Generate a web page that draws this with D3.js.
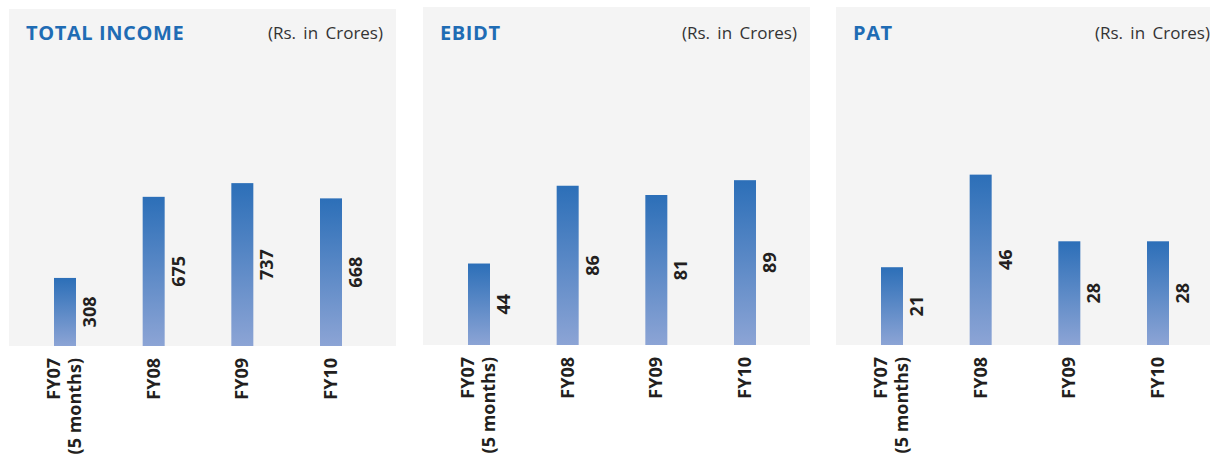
<!DOCTYPE html>
<html><head><meta charset="utf-8">
<script src="https://cdn.jsdelivr.net/npm/d3@7"></script>
<style>html,body{margin:0;padding:0;background:#fff;}svg{display:block;}</style>
</head><body>
<svg id="chart" width="1210" height="456"></svg>
<script>
const categories = [["FY07","(5 months)"],["FY08"],["FY09"],["FY10"]];
const titles = ["TOTAL INCOME","EBIDT","PAT"];
const unitLabel = "(Rs. in Crores)";
const incomeValues = [308,675,737,668];
const ebidtValues = [44,86,81,89];
const patValues = [21,46,28,28];
const seriesList = [incomeValues, ebidtValues, patValues];
const domainMax = [905, 108, 54];

const panelX = [9, 423, 836];
const panelTop = [9, 7, 7];
const panelBottom = [346, 345, 345];
const panelW = 387;

const svg = d3.select("#chart");
const defs = svg.append("defs");
const grad = defs.append("linearGradient").attr("id","barGrad").attr("x1",0).attr("y1",0).attr("x2",0).attr("y2",1);
grad.append("stop").attr("offset","0%").attr("stop-color","#2c6fb8");
grad.append("stop").attr("offset","100%").attr("stop-color","#8ca4d5");

seriesList.forEach((vals, i) => {
  const g = svg.append("g").attr("transform", `translate(${panelX[i]},0)`);
  const base = panelBottom[i];
  g.append("rect").attr("x",0).attr("y",panelTop[i]).attr("width",panelW).attr("height",base-panelTop[i]).attr("fill","#f4f4f4");
  g.append("text").attr("x",17).attr("y",40).text(titles[i])
    .attr("font-family","'Open Sans', sans-serif").attr("font-weight","bold").attr("font-size",20)
    .attr("letter-spacing",0.6).attr("fill","#1f6cb4");
  g.append("text").attr("x",panelW-13).attr("y",39).attr("text-anchor","end").text(unitLabel)
    .attr("font-family","'Open Sans', sans-serif").attr("font-size",17).attr("word-spacing",3).attr("fill","#333");

  const x = d3.scalePoint().domain(d3.range(categories.length)).range([56, 322]);
  const y = d3.scaleLinear().domain([0, domainMax[i]]).range([base, base-200]);
  const bw = 22;

  g.selectAll("rect.bar").data(vals).join("rect").attr("class","bar")
    .attr("x",(d,j)=>x(j)-bw/2).attr("y",d=>y(d)).attr("width",bw).attr("height",d=>base-y(d))
    .attr("fill","url(#barGrad)");

  g.selectAll("text.val").data(vals).join("text").attr("class","val")
    .attr("transform",(d,j)=>`translate(${x(j)+bw/2+20},${(y(d)+base)/2}) rotate(-90)`)
    .attr("text-anchor","middle")
    .attr("font-family","'Open Sans', sans-serif").attr("font-weight","bold").attr("font-size",18)
    .attr("fill","#231f20").text(d=>d);

  categories.forEach((lines, j) => {
    const n = lines.length;
    lines.forEach((ln, k) => {
      const bx = x(j) + 6 - (n-1)*11 + k*21;
      g.append("text").attr("transform",`translate(${bx},${base+12}) rotate(-90)`)
        .attr("text-anchor","end")
        .attr("font-family","'Open Sans', sans-serif").attr("font-weight","bold").attr("font-size",18)
        .attr("fill","#231f20").text(ln);
    });
  });
});
</script>
</body></html>
